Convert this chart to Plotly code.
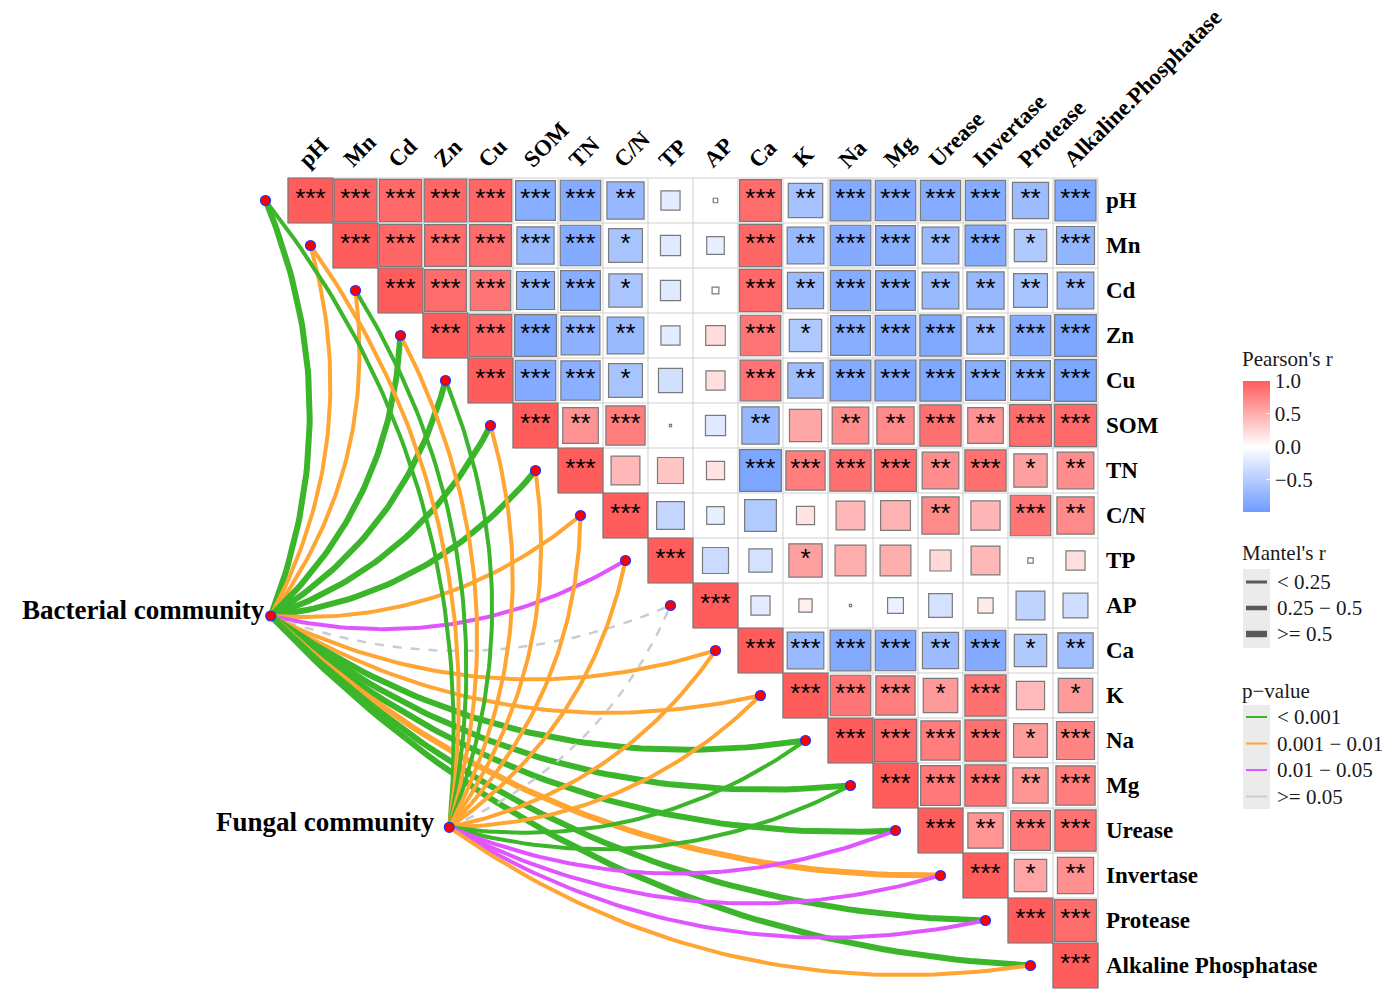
import numpy as np
import plotly.graph_objects as go

# ---------------- data ----------------
row_labels = ["pH", "Mn", "Cd", "Zn", "Cu", "SOM", "TN", "C/N", "TP", "AP", "Ca", "K", "Na", "Mg",
              "Urease", "Invertase", "Protease", "Alkaline Phosphatase"]
col_labels = ["pH", "Mn", "Cd", "Zn", "Cu", "SOM", "TN", "C/N", "TP", "AP", "Ca", "K", "Na", "Mg",
              "Urease", "Invertase", "Protease", "Alkaline.Phosphatase"]

# Pearson's r, upper triangle: row i lists columns i..17
pearson_r = [
    [1, 0.95, 0.92, 0.94, 0.93, -0.82, -0.85, -0.72, -0.2, -0.015, 0.9, -0.62, -0.86, -0.85, -0.84, -0.84, -0.68, -0.87],
    [1, 0.93, 0.9, 0.9, -0.72, -0.85, -0.6, -0.22, -0.17, 0.93, -0.7, -0.85, -0.82, -0.7, -0.86, -0.55, -0.75],
    [1, 0.9, 0.85, -0.75, -0.82, -0.58, -0.22, -0.03, 0.92, -0.68, -0.84, -0.82, -0.7, -0.72, -0.6, -0.7],
    [1, 0.93, -0.9, -0.78, -0.7, -0.2, 0.21, 0.85, -0.55, -0.82, -0.85, -0.88, -0.72, -0.85, -0.9],
    [1, -0.85, -0.8, -0.6, -0.31, 0.2, 0.86, -0.65, -0.86, -0.87, -0.88, -0.82, -0.82, -0.9],
    [1, 0.66, 0.8, 0.005, -0.22, -0.72, 0.54, 0.7, 0.72, 0.88, 0.66, 0.9, 0.92],
    [1, 0.44, 0.36, 0.18, -0.9, 0.8, 0.88, 0.9, 0.7, 0.88, 0.58, 0.7],
    [1, -0.41, -0.17, -0.53, 0.18, 0.44, 0.47, 0.72, 0.45, 0.85, 0.72],
    [1, -0.36, -0.29, 0.58, 0.5, 0.5, 0.24, 0.44, 0.02, 0.2],
    [1, -0.2, 0.1, 0.005, -0.14, -0.3, 0.13, -0.44, -0.33],
    [1, -0.7, -0.86, -0.85, -0.68, -0.85, -0.55, -0.65],
    [1, 0.85, 0.8, 0.62, 0.88, 0.42, 0.62],
    [1, 0.92, 0.8, 0.88, 0.6, 0.75],
    [1, 0.82, 0.88, 0.65, 0.8],
    [1, 0.65, 0.82, 0.88],
    [1, 0.55, 0.68],
    [1, 0.9],
    [1],
]

pearson_sig = [
    "*** *** *** *** *** *** *** ** - - *** ** *** *** *** *** ** ***",
    "*** *** *** *** *** *** * - - *** ** *** *** ** *** * ***",
    "*** *** *** *** *** * - - *** ** *** *** ** ** ** **",
    "*** *** *** *** ** - - *** * *** *** *** ** *** ***",
    "*** *** *** * - - *** ** *** *** *** *** *** ***",
    "*** ** *** - - ** - ** ** *** ** *** ***",
    "*** - - - *** *** *** *** ** *** * **",
    "*** - - - - - - ** - *** **",
    "*** - - * - - - - - -",
    "*** - - - - - - - -",
    "*** *** *** *** ** *** * **",
    "*** *** *** * *** - *",
    "*** *** *** *** * ***",
    "*** *** *** ** ***",
    "*** ** *** ***",
    "*** * **",
    "*** ***",
    "***",
]

communities = ["Bacterial community", "Fungal community"]
community_x = [-0.884, 3.084]
community_y = [9.233, 13.929]

# Mantel test categories (per environmental variable, in row order)
mantel_r_cat = {
    "Bacterial community": [">=0.5", "0.25-0.5", "0.25-0.5", ">=0.5", ">=0.5", ">=0.5", ">=0.5", "0.25-0.5",
                            "0.25-0.5", "<0.25", "0.25-0.5", "0.25-0.5", ">=0.5", ">=0.5", ">=0.5", ">=0.5",
                            ">=0.5", ">=0.5"],
    "Fungal community": ["0.25-0.5"] * 9 + ["<0.25"] + ["0.25-0.5"] * 8,
}
mantel_p_cat = {
    "Bacterial community": ["<0.001", "0.001-0.01", "0.001-0.01", "<0.001", "<0.001", "<0.001", "<0.001",
                            "0.001-0.01", "0.01-0.05", ">=0.05", "0.001-0.01", "0.001-0.01", "<0.001",
                            "<0.001", "<0.001", "0.001-0.01", "<0.001", "<0.001"],
    "Fungal community": ["<0.001", "0.001-0.01", "<0.001", "0.001-0.01", "<0.001", "0.001-0.01", "0.001-0.01",
                         "0.001-0.01", "0.001-0.01", ">=0.05", "0.001-0.01", "0.001-0.01", "<0.001", "<0.001",
                         "0.01-0.05", "0.01-0.05", "0.01-0.05", "0.001-0.01"],
}

r_levels = ["<0.25", "0.25-0.5", ">=0.5"]
r_level_text = ["< 0.25", "0.25 \u2212 0.5", ">= 0.5"]
p_levels = ["<0.001", "0.001-0.01", "0.01-0.05", ">=0.05"]
p_level_text = ["< 0.001", "0.001 \u2212 0.01", "0.01 \u2212 0.05", ">= 0.05"]

# ---------------- styles ----------------
W, H = 1395, 1005
CELL = 45.0
X0_PX, Y0_PX = 288.0, 178.0
SERIF = "Liberation Serif"
width_map = {"<0.25": 2.5, "0.25-0.5": 4.0, ">=0.5": 6.0}
color_map = {"<0.001": "#3BB52A", "0.001-0.01": "#FFA533", "0.01-0.05": "#E055FF", ">=0.05": "#C8CCD4"}
dash_map = {"<0.001": "solid", "0.001-0.01": "solid", "0.01-0.05": "solid", ">=0.05": "dash"}
colorscale = [[0.0, "#6E9CFF"], [0.5, "#FFFFFF"], [1.0, "#FF5C5C"]]

n = len(row_labels)
fig = go.Figure()

# grid (upper triangle cells)
gx, gy = [], []
for k in range(n + 1):
    xs = max(k - 1, 0) - 0.5
    gx += [xs, n - 0.5, None]
    gy += [k - 0.5, k - 0.5, None]
for m in range(n + 1):
    ye = min(m, n - 1) + 0.5
    gx += [m - 0.5, m - 0.5, None]
    gy += [-0.5, ye, None]
fig.add_trace(go.Scatter(x=gx, y=gy, mode="lines", line=dict(color="#CFCFCF", width=1),
                         hoverinfo="skip", showlegend=False))

# squares
sx, sy, sr, ss = [], [], [], []
tx, ty, tt = [], [], []
for i in range(n):
    sig = pearson_sig[i].split()
    for k, r in enumerate(pearson_r[i]):
        j = i + k
        sx.append(j)
        sy.append(i)
        sr.append(r)
        ss.append(CELL * np.sqrt(abs(r)) - (0 if j == i else 1))
        if sig[k] != "-":
            tx.append(j)
            ty.append(i)
            tt.append(sig[k])

fig.add_trace(go.Scatter(
    x=sx, y=sy, mode="markers", showlegend=False, hoverinfo="skip",
    marker=dict(symbol="square", size=ss, color=sr, colorscale=colorscale, cmin=-1, cmax=1, opacity=1,
                line=dict(color="#7A7A7A", width=1.2),
                colorbar=dict(x=1243 / W, xanchor="left", y=1 - 446.5 / H, yanchor="middle",
                              len=131 / H, lenmode="fraction", thickness=27, xpad=0, ypad=0,
                              outlinewidth=0, tickvals=[1, 0.5, 0, -0.5],
                              ticktext=["1.0", "0.5", "0.0", "\u22120.5"],
                              ticks="inside", ticklen=4, tickcolor="rgba(255,255,255,0.8)",
                              tickfont=dict(family=SERIF, size=21, color="#1a1a1a"))),
))
fig.add_trace(go.Scatter(x=tx, y=ty, mode="text", text=tt, showlegend=False, hoverinfo="skip",
                         textfont=dict(family="Liberation Sans", size=26, color="black")))


# mantel edges
def curve(p0, p1, curv=0.2, npts=60):
    x0, y0 = p0
    x1, y1 = p1
    dx, dy = x1 - x0, y1 - y0
    L = np.hypot(dx, dy)
    nx, ny = -dy / L, dx / L
    cx = (x0 + x1) / 2 + nx * curv * L
    cy = (y0 + y1) / 2 + ny * curv * L
    t = np.linspace(0, 1, npts)
    bx = (1 - t) ** 2 * x0 + 2 * (1 - t) * t * cx + t ** 2 * x1
    by = (1 - t) ** 2 * y0 + 2 * (1 - t) * t * cy + t ** 2 * y1
    return bx, by


env_x = [i - 1 for i in range(n)]
env_y = [i for i in range(n)]
for ci, com in enumerate(communities):
    for i in range(n):
        bx, by = curve((community_x[ci], community_y[ci]), (env_x[i], env_y[i]))
        p = mantel_p_cat[com][i]
        rr = mantel_r_cat[com][i]
        fig.add_trace(go.Scatter(x=bx, y=by, mode="lines", hoverinfo="skip", showlegend=False,
                                 line=dict(color=color_map[p], width=width_map[rr], dash=dash_map[p])))

fig.add_trace(go.Scatter(x=env_x + community_x, y=env_y + community_y, mode="markers",
                         hoverinfo="skip", showlegend=False,
                         marker=dict(size=10, color="#FF0000", opacity=1,
                                     line=dict(color="#2233FF", width=1.2))))

ann = []
# column labels
for j, lab in enumerate(col_labels):
    ann.append(dict(x=j - 0.5, y=-0.5, xref="x", yref="y", text=f"<b>{lab}</b>", showarrow=False,
                    textangle=-45, xanchor="left", yanchor="bottom", xshift=3, yshift=3,
                    font=dict(family=SERIF, size=23, color="black")))
# row labels
for i, lab in enumerate(row_labels):
    ann.append(dict(x=n - 0.5, y=i, xref="x", yref="y", text=f"<b>{lab}</b>", showarrow=False,
                    xanchor="left", yanchor="middle", xshift=6,
                    font=dict(family=SERIF, size=23, color="black")))
# community labels
shifts = [(-4, 6), (-12, 5)]
for ci, com in enumerate(communities):
    ann.append(dict(x=community_x[ci], y=community_y[ci], xref="x", yref="y", text=f"<b>{com}</b>",
                    showarrow=False, xanchor="right", yanchor="middle",
                    xshift=shifts[ci][0], yshift=shifts[ci][1],
                    font=dict(family=SERIF, size=27, color="black")))


def pxx(v):
    return v / W


def pyy(v):
    return 1 - v / H


def legend_text(xp, yp, text, size=21):
    ann.append(dict(x=pxx(xp), y=pyy(yp), xref="paper", yref="paper", text=text, showarrow=False,
                    xanchor="left", yanchor="middle", font=dict(family=SERIF, size=size, color="#1a1a1a")))


shapes = []
legend_text(1240, 359, "Pearson's r")
legend_text(1240, 553, "Mantel's r")
legend_text(1240, 691, "p\u2212value")
shapes.append(dict(type="rect", xref="paper", yref="paper", x0=pxx(1243), x1=pxx(1270),
                   y0=pyy(569), y1=pyy(648), fillcolor="#EBEBEB", line=dict(width=0), layer="below"))
for k, lv in enumerate(r_levels):
    yy = 582 + 26 * k
    shapes.append(dict(type="line", xref="paper", yref="paper", x0=pxx(1246), x1=pxx(1267),
                       y0=pyy(yy), y1=pyy(yy), line=dict(color="#595959", width=width_map[lv] + 0.5)))
    legend_text(1275, yy, r_level_text[k])
shapes.append(dict(type="rect", xref="paper", yref="paper", x0=pxx(1243), x1=pxx(1270),
                   y0=pyy(705), y1=pyy(809), fillcolor="#EBEBEB", line=dict(width=0), layer="below"))
for k, lv in enumerate(p_levels):
    yy = 717 + 26.5 * k
    shapes.append(dict(type="line", xref="paper", yref="paper", x0=pxx(1246), x1=pxx(1267),
                       y0=pyy(yy), y1=pyy(yy), line=dict(color=color_map[lv], width=2)))
    legend_text(1275, yy, p_level_text[k])

fig.update_layout(
    width=W, height=H, margin=dict(l=0, r=0, t=0, b=0),
    paper_bgcolor="white", plot_bgcolor="white",
    xaxis=dict(range=[(0 - X0_PX) / CELL - 0.5, (W - X0_PX) / CELL - 0.5], visible=False, fixedrange=True),
    yaxis=dict(range=[(H - Y0_PX) / CELL - 0.5, (0 - Y0_PX) / CELL - 0.5], visible=False, fixedrange=True),
    annotations=ann, shapes=shapes, showlegend=False,
)

fig.write_html("out.html", config={"displayModeBar": False},
               post_script="document.body.style.margin='0';")
